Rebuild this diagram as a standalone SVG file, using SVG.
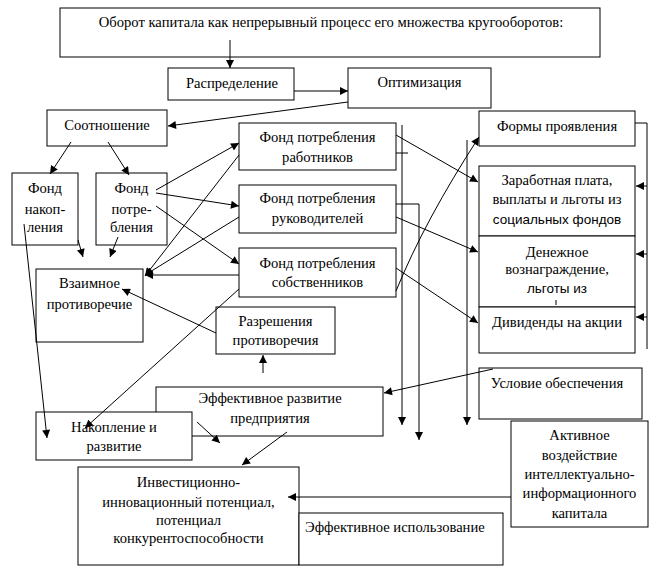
<svg xmlns="http://www.w3.org/2000/svg" width="657" height="575" viewBox="0 0 657 575">
<style>
rect{fill:#fff;stroke:#000;stroke-width:1}
text{font-family:"Liberation Serif","Times New Roman",serif;font-size:14.6px;fill:#000;text-anchor:middle}
text.s{font-family:"Liberation Sans",Arial,sans-serif;font-size:13.5px}
text.l{text-anchor:start}
#connectors line,#connectors path,#connectors polyline{stroke:#000;stroke-width:1;fill:none}
.a{marker-end:url(#ah)}
</style>
<defs>
<marker id="ah" viewBox="0 0 10 10" refX="10" refY="5" markerWidth="9" markerHeight="8" markerUnits="userSpaceOnUse" orient="auto">
<path d="M0,0 L10,5 L0,10 z" fill="#000"/>
</marker>
</defs>
<rect x="0" y="0" width="657" height="575" style="stroke:none"/>
<g id="top"><rect x="60" y="8" width="540" height="49"/><text x="331" y="27">Оборот капитала как непрерывный процесс его множества кругооборотов:</text></g>
<g id="raspr"><rect x="168" y="68" width="126" height="32"/><text x="232" y="88">Распределение</text></g>
<g id="optim"><rect x="348" y="68" width="143" height="40"/><text x="419.5" y="87">Оптимизация</text></g>
<g id="sootn"><rect x="47" y="110" width="120" height="36"/><text x="107" y="130">Соотношение</text></g>
<g id="fond_nak"><rect x="12" y="173" width="66" height="72"/><text x="45" y="193">Фонд</text><text x="45" y="214">накоп-</text><text x="45" y="232">ления</text></g>
<g id="fond_potr"><rect x="96" y="173" width="71" height="72"/><text x="131.5" y="193">Фонд</text><text x="131.5" y="214">потре-</text><text x="131.5" y="232">бления</text></g>
<g id="vzaim"><rect x="36" y="269" width="107" height="73"/><text x="89.5" y="288">Взаимное</text><text x="89.5" y="309">противоречие</text></g>
<g id="fp_rab"><rect x="239" y="123" width="157" height="47"/><text x="317.5" y="142">Фонд потребления</text><text x="317.5" y="162">работников</text></g>
<g id="fp_ruk"><rect x="239" y="185" width="157" height="48"/><text x="317.5" y="203">Фонд потребления</text><text x="317.5" y="223">руководителей</text></g>
<g id="fp_sob"><rect x="239" y="248" width="157" height="49"/><text x="317.5" y="268">Фонд потребления</text><text x="317.5" y="287">собственников</text></g>
<g id="razr"><rect x="216" y="307" width="119" height="47"/><text x="275.5" y="326">Разрешения</text><text x="275.5" y="345">противоречия</text></g>
<g id="formy"><rect x="479" y="111" width="156" height="35"/><text x="557" y="131">Формы проявления</text></g>
<g id="zarpl"><rect x="479" y="166" width="156" height="70"/><text x="557" y="185">Заработная плата,</text><text x="557" y="204">выплаты и льготы из</text><text class="s" x="557" y="224">социальных фондов</text></g>
<g id="denezh"><rect x="479" y="236" width="156" height="71"/><text x="557" y="257">Денежное</text><text x="557" y="274">вознаграждение,</text><text class="s" x="557" y="293">льготы из</text><line x1="556" y1="300" x2="556" y2="305" stroke="#000"/></g>
<g id="divid"><rect x="479" y="307" width="156" height="46"/><text x="557" y="327">Дивиденды на акции</text></g>
<g id="uslov"><rect x="479" y="368" width="163" height="51"/><text x="557" y="388">Условие обеспечения</text></g>
<g id="effrazv"><rect x="156" y="387" width="227" height="49"/><text x="270" y="403">Эффективное развитие</text><text x="270" y="423">предприятия</text></g>
<g id="nakopl"><rect x="36" y="412" width="156" height="48"/><text x="114" y="432">Накопление и</text><text x="114" y="451">развитие</text></g>
<g id="invest"><rect x="78" y="467" width="221" height="98"/><text x="188.5" y="487">Инвестиционно-</text><text x="188.5" y="507">инновационный потенциал,</text><text x="188.5" y="525">потенциал</text><text x="188.5" y="543">конкурентоспособности</text></g>
<g id="effisp"><rect x="299" y="513" width="204" height="52"/><text class="l" x="305" y="532">Эффективное использование</text></g>
<g id="aktiv"><rect x="511" y="421" width="137" height="106"/><text x="579.5" y="440">Активное</text><text x="579.5" y="460">воздействие</text><text x="579.5" y="479">интеллектуально-</text><text x="579.5" y="498">информационного</text><text x="579.5" y="518">капитала</text></g>
<g id="connectors">
<line class="a" x1="230" y1="40" x2="230" y2="68"/>
<line class="a" x1="294" y1="91" x2="348" y2="91"/>
<line class="a" x1="348" y1="102" x2="168" y2="126"/>
<line class="a" x1="71" y1="142" x2="50" y2="174"/>
<line class="a" x1="108" y1="142" x2="129" y2="175"/>
<line class="a" x1="78" y1="240" x2="83" y2="257"/>
<line class="a" x1="118" y1="237" x2="110" y2="257"/>
<line class="a" x1="24" y1="224" x2="47" y2="438"/>
<line class="a" x1="156" y1="190" x2="239" y2="143"/>
<line class="a" x1="156" y1="193" x2="239" y2="206"/>
<line class="a" x1="156" y1="206" x2="239" y2="264"/>
<line class="a" x1="239" y1="155" x2="145" y2="276"/>
<line class="a" x1="239" y1="217" x2="145" y2="275"/>
<line class="a" x1="239" y1="275" x2="145" y2="275"/>
<line class="a" x1="239" y1="289" x2="85" y2="428"/>
<line class="a" x1="216" y1="333" x2="122" y2="289"/>
<line class="a" x1="263" y1="373" x2="263" y2="355"/>
<line class="a" x1="396" y1="135" x2="478" y2="182"/>
<line class="a" x1="396" y1="217" x2="478" y2="252"/>
<line class="a" x1="396" y1="268" x2="478" y2="323"/>
<path class="a" d="M396,291 Q425,220 479,137"/>
<line class="a" x1="402" y1="125" x2="402" y2="425"/>
<line x1="396" y1="153" x2="408" y2="153"/>
<polyline class="a" points="396,204 419,204 419,440"/>
<line class="a" x1="467" y1="140" x2="467" y2="425"/>
<polyline points="635,123 647,123 647,349"/>
<line class="a" x1="647" y1="186" x2="636" y2="186"/>
<line class="a" x1="647" y1="254" x2="636" y2="254"/>
<line class="a" x1="647" y1="317" x2="636" y2="317"/>
<line class="a" x1="493" y1="369" x2="384" y2="393"/>
<line class="a" x1="197" y1="422" x2="220" y2="443"/>
<line class="a" x1="287" y1="432" x2="242" y2="465"/>
<line class="a" x1="511" y1="497" x2="288" y2="497"/>
</g>
</svg>
